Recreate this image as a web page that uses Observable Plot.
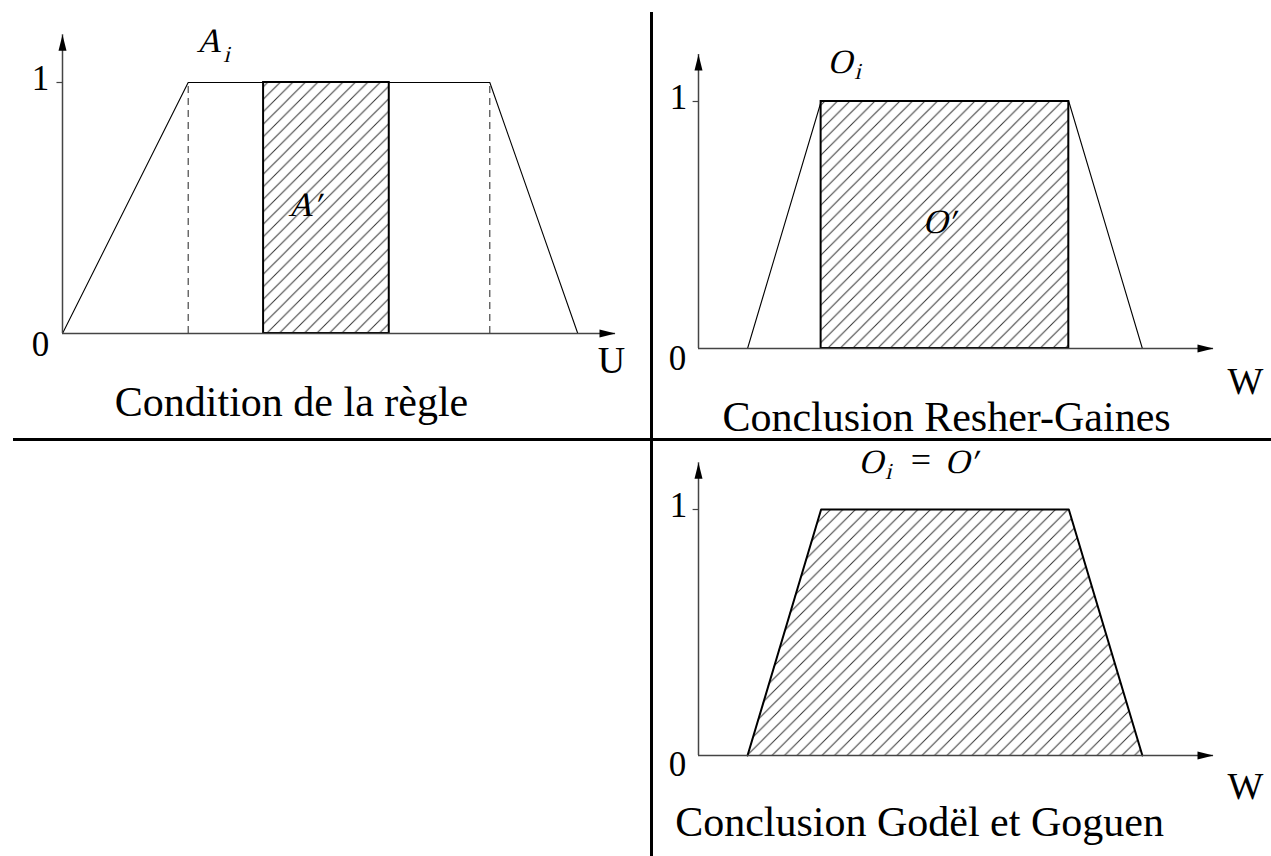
<!DOCTYPE html>
<html><head><meta charset="utf-8">
<script src="https://cdn.jsdelivr.net/npm/d3@7"></script>
<script src="https://cdn.jsdelivr.net/npm/@observablehq/plot@0.6"></script>
<style>
body{margin:0;background:#fff;}
#root{position:relative;width:1271px;height:856px;overflow:hidden;background:#fff;}
.panel{position:absolute;}
.vline{position:absolute;left:650px;top:12px;width:2.5px;height:844px;background:#000;}
.hline{position:absolute;left:13px;top:438px;width:1258px;height:2.5px;background:#000;}
</style></head><body><div id="root"><div class="vline"></div><div class="hline"></div></div>
<script>
// ---- data ----
const condU = [0, 2.5, 8.5, 10.25];      // A_i trapezoid on U
const condMu = [0, 1, 1, 0];
const condCut = [4, 6.5];                // A' support
const concW = [1, 2.5, 7.55, 9.05];      // O_i trapezoid on W
const concMu = [0, 1, 1, 0];
const rgCut = [2.5, 7.55];               // O' (Resher-Gaines) support
const uMax = 11, wMax = 10.5, muMax = 1.19;
const yTickLabels = ["0", "1"];
const titles = ["Condition de la règle", "Conclusion Resher-Gaines", "Conclusion Godël et Goguen"];
const axisNames = ["U", "W", "W"];

const FF = "Liberation Serif";
const arrowRight = {draw(ctx, size){const r=Math.sqrt(size/Math.PI); ctx.moveTo(0,0); ctx.lineTo(-2*r,-r/2); ctx.lineTo(-2*r,r/2); ctx.closePath();}};
const arrowUp = {draw(ctx, size){const r=Math.sqrt(size/Math.PI); ctx.moveTo(0,0); ctx.lineTo(-r/2,2*r); ctx.lineTo(r/2,2*r); ctx.closePath();}};

function pts(xs, ys){ return xs.map((x,i)=>({x, y: ys[i]})); }

function axisMarks(xMax, name, o){
  return [
    Plot.ruleY([0], {x1: 0, x2: xMax, stroke: "#444", strokeWidth: 1.5}),
    Plot.ruleX([0], {y1: 0, y2: muMax, stroke: "#444", strokeWidth: 1.5}),
    Plot.dot([xMax], {x: d=>d, y: 0, symbol: arrowRight, r: 8, fill: "black"}),
    Plot.dot([muMax], {x: 0, y: d=>d, symbol: arrowUp, r: 8, fill: "black"}),
    Plot.ruleY([1], {x1: -0.11, x2: 0, stroke: "#444", strokeWidth: 1.2}),
    Plot.text([yTickLabels[0]], {x: 0, y: 0, text: d=>d, dx: o.zx, dy: o.zy, lineAnchor: "bottom", fontFamily: FF, fontSize: 35, fill: "black"}),
    Plot.text([yTickLabels[1]], {x: 0, y: 1, text: d=>d, dx: o.ox, dy: 7, lineAnchor: "bottom", fontFamily: FF, fontSize: 35, fill: "black"}),
    Plot.text([name], {x: xMax, y: 0, text: d=>d, dx: o.nx, dy: o.ny, lineAnchor: "bottom", fontFamily: FF, fontSize: 38, fill: "black"})
  ];
}
function title(t, dx, dy){
  return Plot.text([t], {x: 0, y: 0, text: d=>d, dx, dy, lineAnchor: "bottom", fontFamily: FF, fontSize: 42, fill: "black"});
}
// math label: upright glyphs, slanted afterwards (kind "math") or kept upright (kind "mathrm")
function it(t, x, y, dx, dy, size=34, kind="math"){
  return Plot.text([t], {x, y, text: d=>d, dx, dy, lineAnchor: "bottom", fontFamily: FF, fontSize: size, fill: "black", ariaLabel: () => kind});
}
function slant(svg){
  svg.querySelectorAll('text[aria-label="math"]').forEach(t => {
    const tr = t.getAttribute("transform");
    if (tr) {
      const m = /translate\(\s*([-\d.e]+)[ ,]+([-\d.e]+)\s*\)/.exec(tr);
      if (m) {
        t.removeAttribute("transform");
        t.setAttribute("x", (+(t.getAttribute("x") || 0)) + (+m[1]));
        t.setAttribute("y", (+(t.getAttribute("y") || 0)) + (+m[2]));
      }
    }
    t.style.transformBox = "fill-box";
    t.style.transformOrigin = "50% 100%";
    t.style.transform = "skewX(-14deg)";
  });
}
function addHatch(svg, id){
  const defs = d3.select(svg).insert("defs", ":first-child");
  const p = defs.append("pattern").attr("id", id).attr("patternUnits", "userSpaceOnUse").attr("width", 12.5).attr("height", 12.5);
  p.append("path").attr("d", "M-2,2 L2,-2 M0,12.5 L12.5,0 M10.5,14.5 L14.5,10.5").attr("stroke", "#333").attr("stroke-width", 1).attr("fill", "none");
}
function place(svg, left, top){
  const d = document.createElement("div");
  d.className = "panel"; d.style.left = left + "px"; d.style.top = top + "px";
  d.appendChild(svg);
  document.getElementById("root").insertBefore(d, document.querySelector(".vline"));
}
const common = {style: {overflow: "visible", background: "transparent"}};

// Panel 1 : condition
const p1 = Plot.plot({...common, width: 650, height: 438,
  x: {domain: [0, uMax], range: [62, 615], axis: null},
  y: {domain: [0, 1], range: [333, 82], axis: null},
  marks: [
    Plot.rect([{a: condCut[0], b: condCut[1]}], {x1: "a", x2: "b", y1: 0, y2: 1, fill: "url(#hatch1)", stroke: "black", strokeWidth: 2}),
    Plot.ruleX([condU[1], condU[2]], {y1: 0, y2: 1, stroke: "#222", strokeWidth: 1, strokeDasharray: "7,5"}),
    Plot.line(pts(condU, condMu), {x: "x", y: "y", stroke: "black", strokeWidth: 1.1}),
    ...axisMarks(uMax, axisNames[0], {zx: -22, zy: 22, ox: -22, nx: -4, ny: 39}),
    it("A", condU[1], 1, 19, -30),
    it("i", condU[1], 1, 37, -20, 23),
    it("A\u2032", (condCut[0]+condCut[1])/2, 0.5, -24, 8),
    title(titles[0], 229, 82)
  ]});
addHatch(p1, "hatch1"); slant(p1);
place(p1, 0, 0);

// Panel 2 : Resher-Gaines
const p2 = Plot.plot({...common, width: 620, height: 438,
  x: {domain: [0, wMax], range: [47, 562], axis: null},
  y: {domain: [0, 1], range: [348, 101], axis: null},
  marks: [
    Plot.line(pts(concW, concMu), {x: "x", y: "y", stroke: "black", strokeWidth: 1.1}),
    Plot.rect([{a: rgCut[0], b: rgCut[1]}], {x1: "a", x2: "b", y1: 0, y2: 1, fill: "url(#hatch2)", stroke: "black", strokeWidth: 2}),
    ...axisMarks(wMax, axisNames[1], {zx: -21, zy: 21, ox: -20, nx: 32, ny: 45}),
    it("O", concW[1], 1, 17, -28),
    it("i", concW[1], 1, 35, -22, 23),
    it("O\u2032", (rgCut[0]+rgCut[1])/2, 0.5, -8, 8),
    title(titles[1], 248, 82)
  ]});
addHatch(p2, "hatch2"); slant(p2);
place(p2, 651, 0);

// Panel 3 : Godel et Goguen
const mid3 = (concW[1]+concW[2])/2;
const p3 = Plot.plot({...common, width: 620, height: 417,
  x: {domain: [0, wMax], range: [47, 562], axis: null},
  y: {domain: [0, 1], range: [316, 70], axis: null},
  marks: [
    Plot.areaY(pts(concW, concMu), {x: "x", y: "y", fill: "url(#hatch3)"}),
    Plot.line(pts(concW, concMu), {x: "x", y: "y", stroke: "black", strokeWidth: 2}),
    ...axisMarks(wMax, axisNames[2], {zx: -21, zy: 20, ox: -20, nx: 32, ny: 43}),
    it("O", mid3, 1, -76, -36),
    it("i", mid3, 1, -58, -30, 23),
    it("=", mid3, 1, -24, -38, 36, "mathrm"),
    it("O\u2032", mid3, 1, 14, -36),
    title(titles[2], 221, 80)
  ]});
addHatch(p3, "hatch3"); slant(p3);
place(p3, 651, 439);
</script></body></html>
